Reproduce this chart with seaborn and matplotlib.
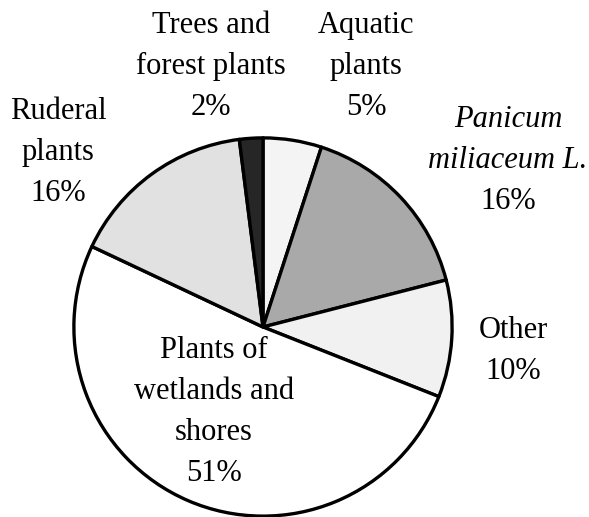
import matplotlib
matplotlib.use("Agg")
import matplotlib.pyplot as plt
import seaborn as sns

# ---- data ----
categories = ["Aquatic plants", "Panicum miliaceum L.", "Other",
              "Plants of wetlands and shores", "Ruderal plants",
              "Trees and forest plants"]
shares = [5, 16, 10, 51, 16, 2]
fill_colors = ["#f4f4f4", "#a9a9a9", "#f1f1f1", "#ffffff", "#e1e1e1", "#262626"]

label_lines = {
    "Trees and forest plants": ["Trees and", "forest plants", "2%"],
    "Aquatic plants": ["Aquatic", "plants", "5%"],
    "Ruderal plants": ["Ruderal", "plants", "16%"],
    "Panicum miliaceum L.": ["Panicum", "miliaceum L.", "16%"],
    "Other": ["Other", "10%"],
    "Plants of wetlands and shores": ["Plants of", "wetlands and", "shores", "51%"],
}
italic_lines = {"Panicum", "miliaceum L."}

sns.set_theme(style="white")
plt.rcParams["font.family"] = ["Liberation Serif", "DejaVu Serif"]

W, H = 589, 517
fig = plt.figure(figsize=(W / 100, H / 100), dpi=100)
fig.patch.set_facecolor("white")

cx, cy, r = 263, 327, 191
ax = fig.add_axes([(cx - r) / W, (H - cy - r) / H, 2 * r / W, 2 * r / H])
ax.pie(shares, colors=fill_colors, startangle=90, counterclock=False,
       radius=1.0,
       wedgeprops=dict(edgecolor="black", linewidth=2.4, joinstyle="round"))
ax.set_xlim(-1.01, 1.01)
ax.set_ylim(-1.01, 1.01)
ax.set_aspect("equal")
ax.axis("off")

# label placement (pixel centre x, first baseline y), line step in px
placement = {
    "Trees and forest plants": (211, 33),
    "Aquatic plants": (366, 33),
    "Ruderal plants": (58, 119),
    "Panicum miliaceum L.": (508, 127),
    "Other": (513, 338),
    "Plants of wetlands and shores": (214, 358),
}
step = 41
for cat in categories:
    x, y0 = placement[cat]
    for i, line in enumerate(label_lines[cat]):
        fig.text(x / W, 1 - (y0 + i * step) / H, line,
                 ha="center", va="baseline", fontsize=22,
                 style="italic" if line in italic_lines else "normal",
                 color="black")

fig.savefig("out.png", dpi=100, facecolor="white")
